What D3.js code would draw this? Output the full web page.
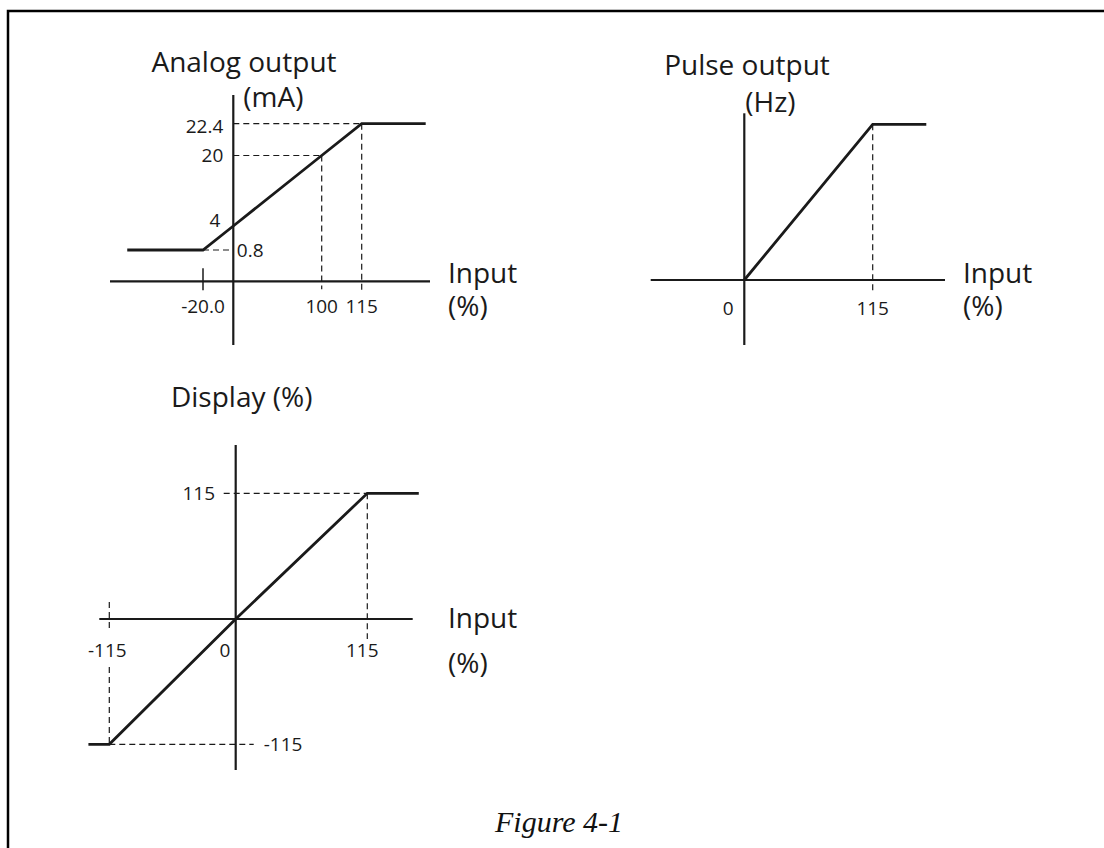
<!DOCTYPE html>
<html>
<head>
<meta charset="utf-8">
<script src="https://cdn.jsdelivr.net/npm/d3@7"></script>
<style>
  html, body { margin: 0; padding: 0; background: #fff; }
  svg { display: block; }
  .title, .unit { font-family: 'Open Sans', sans-serif; font-size: 28px; fill: #1a1a1a; }
  .tick { font-family: 'Open Sans', sans-serif; font-size: 19px; fill: #1a1a1a; }
  .caption { font-family: 'Liberation Serif', serif; font-style: italic; font-size: 30px; fill: #111; }
</style>
</head>
<body>
<div id="chart"></div>
<script>
const width = 1104;
const height = 848;
const ink = '#1a1a1a';

// analog output (mA) vs input (%)
const analogInput = [-70, -20, 0, 100, 115, 139];
const analogOutput = [0.8, 0.8, 4, 20, 22.4, 22.4];
const analogTicksX = [-20, 100, 115];
const analogTickLabelsX = ['-20.0', '100', '115'];
const analogTicksY = [22.4, 20, 4, 0.8];
const analogTickLabelsY = ['22.4', '20', '4', '0.8'];

// pulse output (Hz) vs input (%)
const pulseInput = [0, 115, 163];
const pulseOutput = [0, 115, 115];
const pulseTicksX = [0, 115];
const pulseTickLabelsX = ['0', '115'];

// display (%) vs input (%)
const displayInput = [-134, -115, 0, 115, 160];
const displayOutput = [-115, -115, 0, 115, 115];
const displayTicksX = [-115, 0, 115];
const displayTickLabelsX = ['-115', '0', '115'];
const displayTicksY = [115, -115];
const displayTickLabelsY = ['115', '-115'];

const svg = d3.select('#chart').append('svg')
    .attr('width', width)
    .attr('height', height);

// page frame (top and left rules only)
svg.append('path')
    .attr('d', `M 8 ${height} L 8 11 L ${width} 11`)
    .attr('fill', 'none')
    .attr('stroke', '#000')
    .attr('stroke-width', 2.5);

// the figure is schematic, so the scales are piecewise linear
const analogX = d3.scaleLinear().domain([-20, 0, 100, 115]).range([203, 233.3, 321.7, 361.7]);
const analogY = d3.scaleLinear().domain([0, 0.8, 4, 20, 22.4]).range([281.3, 250, 226, 155.5, 123.7]);
const pulseX = d3.scaleLinear().domain([0, 115]).range([744.3, 872.7]);
const pulseY = d3.scaleLinear().domain([0, 115]).range([280, 124.3]);
const displayX = d3.scaleLinear().domain([-115, 0, 115]).range([109.3, 235.7, 367.3]);
const displayY = d3.scaleLinear().domain([-115, 0, 115]).range([744.3, 619, 493.3]);

function drawAxes(g, x, y, xExtent, yExtent) {
    const x0 = x(0), y0 = y(0);
    g.append('line')
        .attr('x1', xExtent[0]).attr('x2', xExtent[1])
        .attr('y1', y0).attr('y2', y0)
        .attr('stroke', ink).attr('stroke-width', 2.2);
    g.append('line')
        .attr('x1', x0).attr('x2', x0)
        .attr('y1', yExtent[0]).attr('y2', yExtent[1])
        .attr('stroke', ink).attr('stroke-width', 2.2);
}

function drawCurve(g, x, y, xs, ys) {
    const line = d3.line().x(d => x(d[0])).y(d => y(d[1]));
    g.append('path')
        .datum(d3.zip(xs, ys))
        .attr('d', line)
        .attr('fill', 'none')
        .attr('stroke', ink)
        .attr('stroke-width', 2.8)
        .attr('stroke-linejoin', 'miter');
}

function dashed(g, x1, y1, x2, y2) {
    g.append('line')
        .attr('x1', x1).attr('y1', y1)
        .attr('x2', x2).attr('y2', y2)
        .attr('stroke', ink)
        .attr('stroke-width', 1.2)
        .attr('stroke-dasharray', '6,4');
}

function text(g, cls, x, y, str, anchor) {
    return g.append('text')
        .attr('class', cls)
        .attr('x', x).attr('y', y)
        .attr('text-anchor', anchor || 'start')
        .text(str);
}

// two-line "Input (%)" label as a single text element
function inputLabel(g, x, y, gap) {
    const t = g.append('text').attr('class', 'unit').attr('x', x).attr('y', y);
    t.append('tspan').attr('x', x).text('Input');
    t.append('tspan').attr('x', x).attr('dy', gap).text('(%)');
}

// ---- analog output ----
{
    const g = svg.append('g');
    const x = analogX, y = analogY;
    drawAxes(g, x, y, [110, 430], [95, 345]);

    // guides from the curve to the axes
    dashed(g, x(0), y(22.4), x(115), y(22.4));
    dashed(g, x(0), y(20), x(100), y(20));
    dashed(g, x(-20), y(0.8), x(0), y(0.8));
    dashed(g, x(100), y(20), x(100), y(0) + 8);
    dashed(g, x(115), y(22.4), x(115), y(0) + 9);
    g.append('line')
        .attr('x1', x(-20)).attr('x2', x(-20))
        .attr('y1', y(0) - 13).attr('y2', y(0) + 9)
        .attr('stroke', ink).attr('stroke-width', 1.5);

    drawCurve(g, x, y, analogInput, analogOutput);

    analogTicksX.forEach((v, i) => text(g, 'tick', x(v), y(0) + 32, analogTickLabelsX[i], 'middle'));
    const yOffsets = [[-10, 9.5], [-10, 6], [-13, 1], [3.5, 6.7]];
    analogTicksY.forEach((v, i) => {
        const [dx, dy] = yOffsets[i];
        text(g, 'tick', x(0) + dx, y(v) + dy, analogTickLabelsY[i], dx < 0 ? 'end' : 'start');
    });

    text(g, 'title', 244, 72, 'Analog output', 'middle');
    text(g, 'unit', x(0) + 10, 106.7, '(mA)');
    inputLabel(g, 448, y(0) + 2, 33);
}

// ---- pulse output ----
{
    const g = svg.append('g');
    const x = pulseX, y = pulseY;
    drawAxes(g, x, y, [650.7, 945], [113.3, 345]);

    dashed(g, x(115), y(115), x(115), y(0) + 11);
    drawCurve(g, x, y, pulseInput, pulseOutput);

    const dxs = [-16, 0];
    pulseTicksX.forEach((v, i) => text(g, 'tick', x(v) + dxs[i], y(0) + 35, pulseTickLabelsX[i], 'middle'));

    text(g, 'title', 747, 75, 'Pulse output', 'middle');
    text(g, 'unit', x(0) + 1, 111.7, '(Hz)');
    inputLabel(g, 963, y(0) + 3, 33);
}

// ---- display ----
{
    const g = svg.append('g');
    const x = displayX, y = displayY;
    drawAxes(g, x, y, [99.3, 412.7], [445, 770]);

    dashed(g, x(0) - 12, y(115), x(115), y(115));
    dashed(g, x(-115), y(-115), x(0) + 18, y(-115));
    dashed(g, x(115), y(115), x(115), y(0) + 20);
    // the -115 guide breaks around its tick label
    dashed(g, x(-115), y(0) - 17, x(-115), y(0) + 12);
    dashed(g, x(-115), y(0) + 48, x(-115), y(-115));

    drawCurve(g, x, y, displayInput, displayOutput);

    const dxs = [-2, -10.7, -5];
    displayTicksX.forEach((v, i) => text(g, 'tick', x(v) + dxs[i], y(0) + 38, displayTickLabelsX[i], 'middle'));
    text(g, 'tick', x(0) - 20.7, y(displayTicksY[0]) + 6.7, displayTickLabelsY[0], 'end');
    text(g, 'tick', x(0) + 28, y(displayTicksY[1]) + 6.4, displayTickLabelsY[1], 'start');

    text(g, 'title', 241.7, 407, 'Display (%)', 'middle');
    inputLabel(g, 448, y(0) + 9, 45);
}

text(svg, 'caption', 559, 832, 'Figure 4-1', 'middle');
</script>
</body>
</html>
